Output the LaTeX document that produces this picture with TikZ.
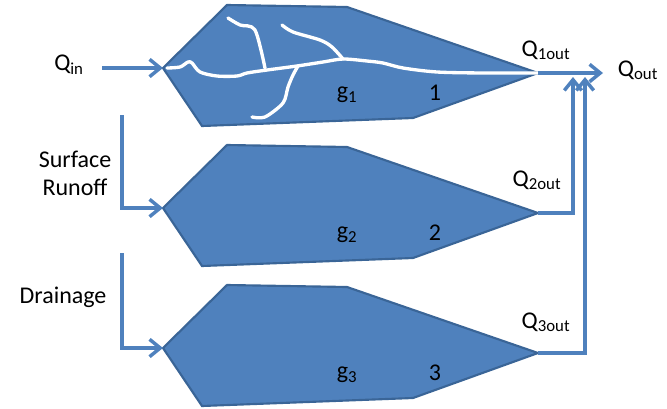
\documentclass[tikz,border=0pt]{standalone}
\usepackage{fontspec}
\setmainfont{Carlito}
\usetikzlibrary{arrows.meta}

\begin{document}
\begin{tikzpicture}[x=0.75pt,y=-0.75pt,
  basin/.style={draw=basinline,fill=basinfill,line width=1.6pt,line join=miter},
  stream/.style={white,line width=2.5pt,line cap=round,line join=round},
  flow/.style={flowblue,line width=2.6pt,-{Straight Barb[length=8pt,width=13pt]}},
  lbl/.style={inner sep=0pt,font=\fontsize{18}{21}\selectfont}]
\definecolor{basinfill}{HTML}{4F81BD}
\definecolor{basinline}{HTML}{3A6597}
\definecolor{flowblue}{HTML}{4F81BD}
\useasboundingbox (0,0) rectangle (667,408);
% three sub-basins
\foreach \i in {1,2,3}{
  \begin{scope}[shift={(0,{140*(\i-1)})}]
    \draw[basin] (163,68) -- (227,5) -- (347,7) -- (538,73) -- (413,118) -- (202,126) -- cycle;
    \coordinate (in\i) at (163,68);
    \coordinate (out\i) at (538,73);
    \node[lbl] (g\i) at (347,95) {g\textsubscript{\i}};
    \node[lbl] (num\i) at (435,93) {\i};
  \end{scope}
}
% river network in basin 1
\draw[stream] plot[smooth,tension=0.5] coordinates {(167,68) (180,67) (188,62) (192,63) (200,72) (217,76) (237,76) (247,73) (267,70) (297,66) (323,62) (343,59) (367,61) (383,63) (403,68) (437,72) (483,73) (537,73)};
\draw[stream] plot[smooth,tension=0.5] coordinates {(228,18) (240,25) (255,30) (265,68)};
\draw[stream] plot[smooth,tension=0.5] coordinates {(282,25) (293,32) (320,40) (332,47) (343,59)};
\draw[stream] plot[smooth,tension=0.5] coordinates {(298,66) (293,75) (288,87) (283,103) (265,117) (252,117)};
% inflows
\node[lbl] (qin) at (69,65) {Q\textsubscript{in}};
\node[lbl,align=center] (runoff) at (75,173) {Surface\\Runoff};
\node[lbl] (drain) at (63,297) {Drainage};
\coordinate (qinstart) at (102,68);
\coordinate (rostart) at (122,115);
\coordinate (drstart) at (122,253);
\draw[flow] (qinstart) -- (in1);
\draw[flow] (rostart) |- (in2);
\draw[flow] (drstart) |- (in3);
% outflows
\node[lbl] (q1out) at (546,50) {Q\textsubscript{1out}};
\node[lbl] (q2out) at (537,180) {Q\textsubscript{2out}};
\node[lbl] (q3out) at (546,322) {Q\textsubscript{3out}};
\node[lbl] (qout) at (638,70) {Q\textsubscript{out}};
\coordinate (qoutend) at (603,73);
\coordinate (join2) at (573,77);
\coordinate (join3) at (585,77);
\draw[flow] (out1) -- (qoutend);
\draw[flow] (out2) -| (join2);
\draw[flow] (out3) -| (join3);
\end{tikzpicture}
\end{document}
